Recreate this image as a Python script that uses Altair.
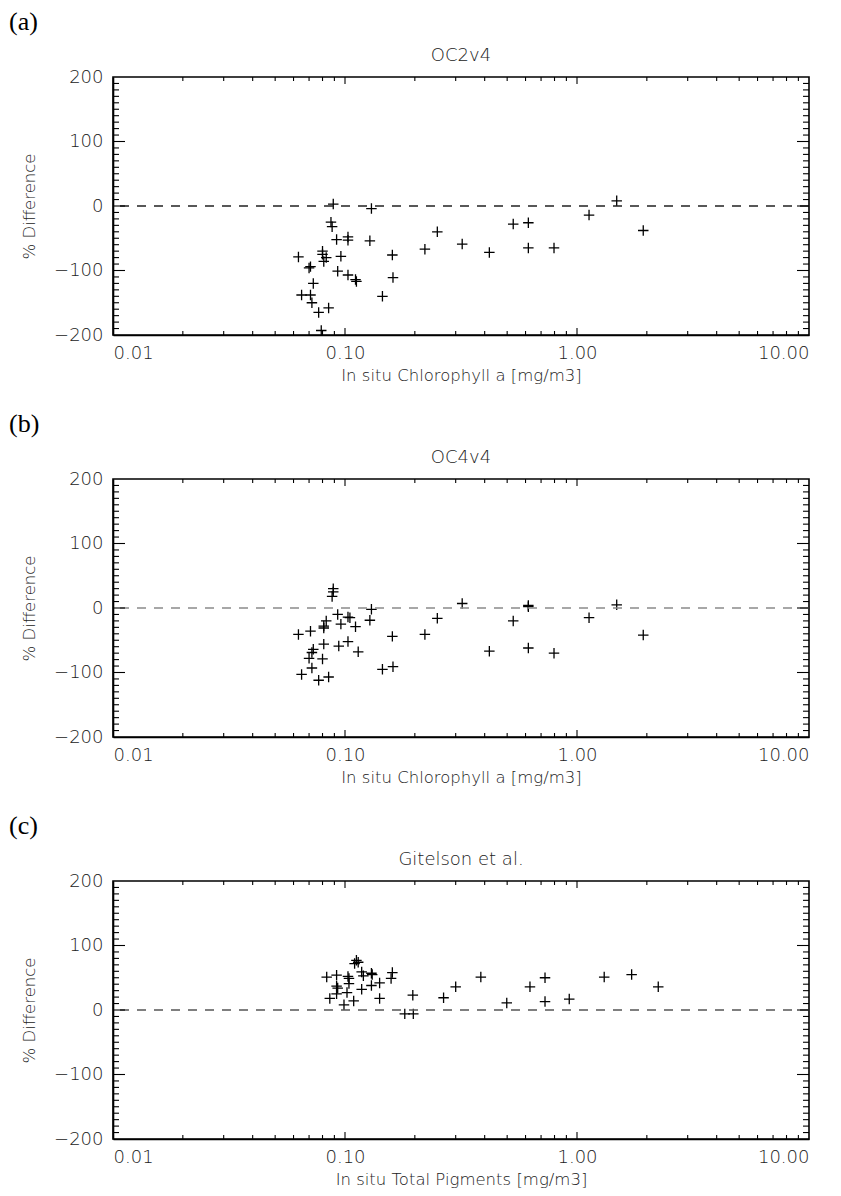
import altair as alt
import pandas as pd

# ---------------- data ----------------
# (a) OC2v4 : in situ chlorophyll a [mg/m3] vs % difference
a_x = [0.089, 0.130, 0.087, 0.088, 0.092, 0.103, 0.103, 0.128, 0.063, 0.080,
       0.080, 0.083, 0.081, 0.096, 0.070, 0.071, 0.093, 0.103, 0.111, 0.112,
       0.160, 0.161, 0.073, 0.065, 0.071, 0.072, 0.085, 0.077, 0.145, 0.079,
       0.221, 0.25, 0.32, 0.419, 0.531, 0.617, 0.617, 0.796, 1.127, 1.483, 1.93]
a_y = [3, -4, -25, -32, -52, -48, -53, -54, -79, -70,
       -75, -80, -86, -78, -96, -94, -101, -107, -114, -117,
       -76, -111, -120, -138, -138, -150, -158, -165, -140, -193,
       -67, -40, -59, -72, -28, -26, -65, -65, -14, 8, -38]

# (b) OC4v4
b_x = [0.089, 0.089, 0.088, 0.130, 0.093, 0.103, 0.105, 0.083, 0.081, 0.081,
       0.096, 0.111, 0.128, 0.063, 0.071, 0.160, 0.081, 0.094, 0.103, 0.114,
       0.073, 0.072, 0.070, 0.080, 0.072, 0.065, 0.077, 0.085, 0.145, 0.161,
       0.221, 0.25, 0.32, 0.419, 0.531, 0.617, 0.617, 0.617, 0.796, 1.127,
       1.483, 1.93]
b_y = [30, 25, 18, -2, -10, -14, -15, -20, -28, -31,
       -25, -29, -19, -41, -36, -44, -56, -59, -52, -68,
       -64, -69, -78, -79, -93, -103, -112, -107, -95, -91,
       -41, -16, 7, -67, -20, 4, 2, -62, -70, -15,
       5, -42]

# (c) Gitelson et al. : in situ total pigments [mg/m3] vs % difference
c_x = [0.112, 0.114, 0.110, 0.0834, 0.092, 0.103, 0.104, 0.118, 0.120, 0.130,
       0.131, 0.160, 0.158, 0.092, 0.093, 0.104, 0.130, 0.141, 0.092, 0.102,
       0.118, 0.086, 0.109, 0.099, 0.141, 0.196, 0.181, 0.197, 0.266, 0.30,
       0.385, 0.498, 0.627, 0.728, 0.728, 0.926, 1.31, 1.72, 2.24]
c_y = [77, 74, 72, 51, 54, 52, 49, 59, 53, 57,
       55, 58, 49, 37, 34, 41, 38, 42, 25, 27,
       32, 18, 14, 8, 18, 23, -6, -6, 19, 36,
       51, 11, 36, 50, 13, 17, 51, 55, 36]

# axis ticks
x_major = [0.01, 0.1, 1, 10]
x_minor = [0.02, 0.03, 0.04, 0.05, 0.06, 0.07, 0.08, 0.09,
           0.2, 0.3, 0.4, 0.5, 0.6, 0.7, 0.8, 0.9,
           2, 3, 4, 5, 6, 7, 8, 9]
y_major = [-200, -100, 0, 100, 200]
y_minor = [v for v in range(-190, 200, 10) if v % 100 != 0]
y_major_inner = [-100, 0, 100]
x_major_inner = [0.1, 1]

# ---------------- styling ----------------
W, H = 696, 258
PLUS = "M-1,0L1,0M0,-1L0,1"
FONT = "DejaVu Sans"
TXT = "#222222"


def panel(xs, ys, title, xtitle, label, dash_color):
    xscale = alt.Scale(type="log", domain=[0.01, 10], nice=False)
    yscale = alt.Scale(domain=[-200, 200], nice=False, zero=False)
    xaxis = alt.Axis(values=x_major, format=".2f", title=xtitle,
                     ticks=False, grid=False, labelPadding=9, titlePadding=5)
    yaxis = alt.Axis(values=y_major, format="d", ticks=False, grid=False,
                     title="% Difference", labelPadding=10, titlePadding=16)
    pts = pd.DataFrame({"x": xs, "y": ys})

    points = alt.Chart(pts).mark_point(
        shape=PLUS, size=110, filled=False, color="black",
        strokeWidth=1.3, opacity=1
    ).encode(
        x=alt.X("x:Q", scale=xscale, axis=xaxis),
        y=alt.Y("y:Q", scale=yscale, axis=yaxis),
    )

    zero = alt.Chart(pd.DataFrame({"z": [0]})).mark_rule(
        strokeDash=[9, 8], color=dash_color, strokeWidth=1.3
    ).encode(y=alt.Y("z:Q", scale=yscale, axis=yaxis))

    def yticks(vals, length):
        d = pd.DataFrame({"v": vals})
        left = alt.Chart(d).mark_rule(color="black", strokeWidth=1.1).encode(
            y=alt.Y("v:Q", scale=yscale, axis=yaxis),
            x=alt.value(0), x2=alt.value(length))
        right = alt.Chart(d).mark_rule(color="black", strokeWidth=1.1).encode(
            y=alt.Y("v:Q", scale=yscale, axis=yaxis),
            x=alt.value(W), x2=alt.value(W - length))
        return [left, right]

    def xticks(vals, length):
        d = pd.DataFrame({"v": vals})
        bottom = alt.Chart(d).mark_rule(color="black", strokeWidth=1.1).encode(
            x=alt.X("v:Q", scale=xscale, axis=xaxis),
            y=alt.value(H), y2=alt.value(H - length))
        top = alt.Chart(d).mark_rule(color="black", strokeWidth=1.1).encode(
            x=alt.X("v:Q", scale=xscale, axis=xaxis),
            y=alt.value(0), y2=alt.value(length))
        return [bottom, top]

    lab = alt.Chart(pd.DataFrame({"t": [label]})).mark_text(
        font="Liberation Serif", fontSize=26, align="left", baseline="top",
        color="black"
    ).encode(text="t:N", x=alt.value(-104), y=alt.value(-68))

    ttl = alt.Chart(pd.DataFrame({"t": [title]})).mark_text(
        font=FONT, fontSize=18, fontWeight=300, align="center",
        baseline="middle", color=TXT
    ).encode(text="t:N", x=alt.value(W / 2), y=alt.value(-21))

    layers = ([points, zero] + yticks(y_minor, 6) + yticks(y_major_inner, 12)
              + xticks(x_minor, 4) + xticks(x_major_inner, 7) + [lab, ttl])

    return alt.layer(*layers).properties(width=W, height=H)


pa = panel(a_x, a_y, "OC2v4", "In situ Chlorophyll a [mg/m3]", "(a)", "#222222")
pb = panel(b_x, b_y, "OC4v4", "In situ Chlorophyll a [mg/m3]", "(b)", "#8a8a8a")
pc = panel(c_x, c_y, "Gitelson et al.", "In situ Total Pigments [mg/m3]", "(c)", "#555555")

chart = alt.vconcat(pa, pb, pc, spacing=144, bounds="flush").properties(
    padding={"left": 0, "top": 0, "right": 0, "bottom": 0},
    background="white",
).configure_view(
    stroke="black", strokeWidth=1.6
).configure_axis(
    domainColor="black", domainWidth=1.6,
    labelFont=FONT, labelFontSize=18, labelFontWeight=300, labelColor=TXT,
    titleFont=FONT, titleFontSize=16.5, titleFontWeight=300, titleColor=TXT,
)

chart.save("out.html", embed_options={"renderer": "svg", "actions": False})
